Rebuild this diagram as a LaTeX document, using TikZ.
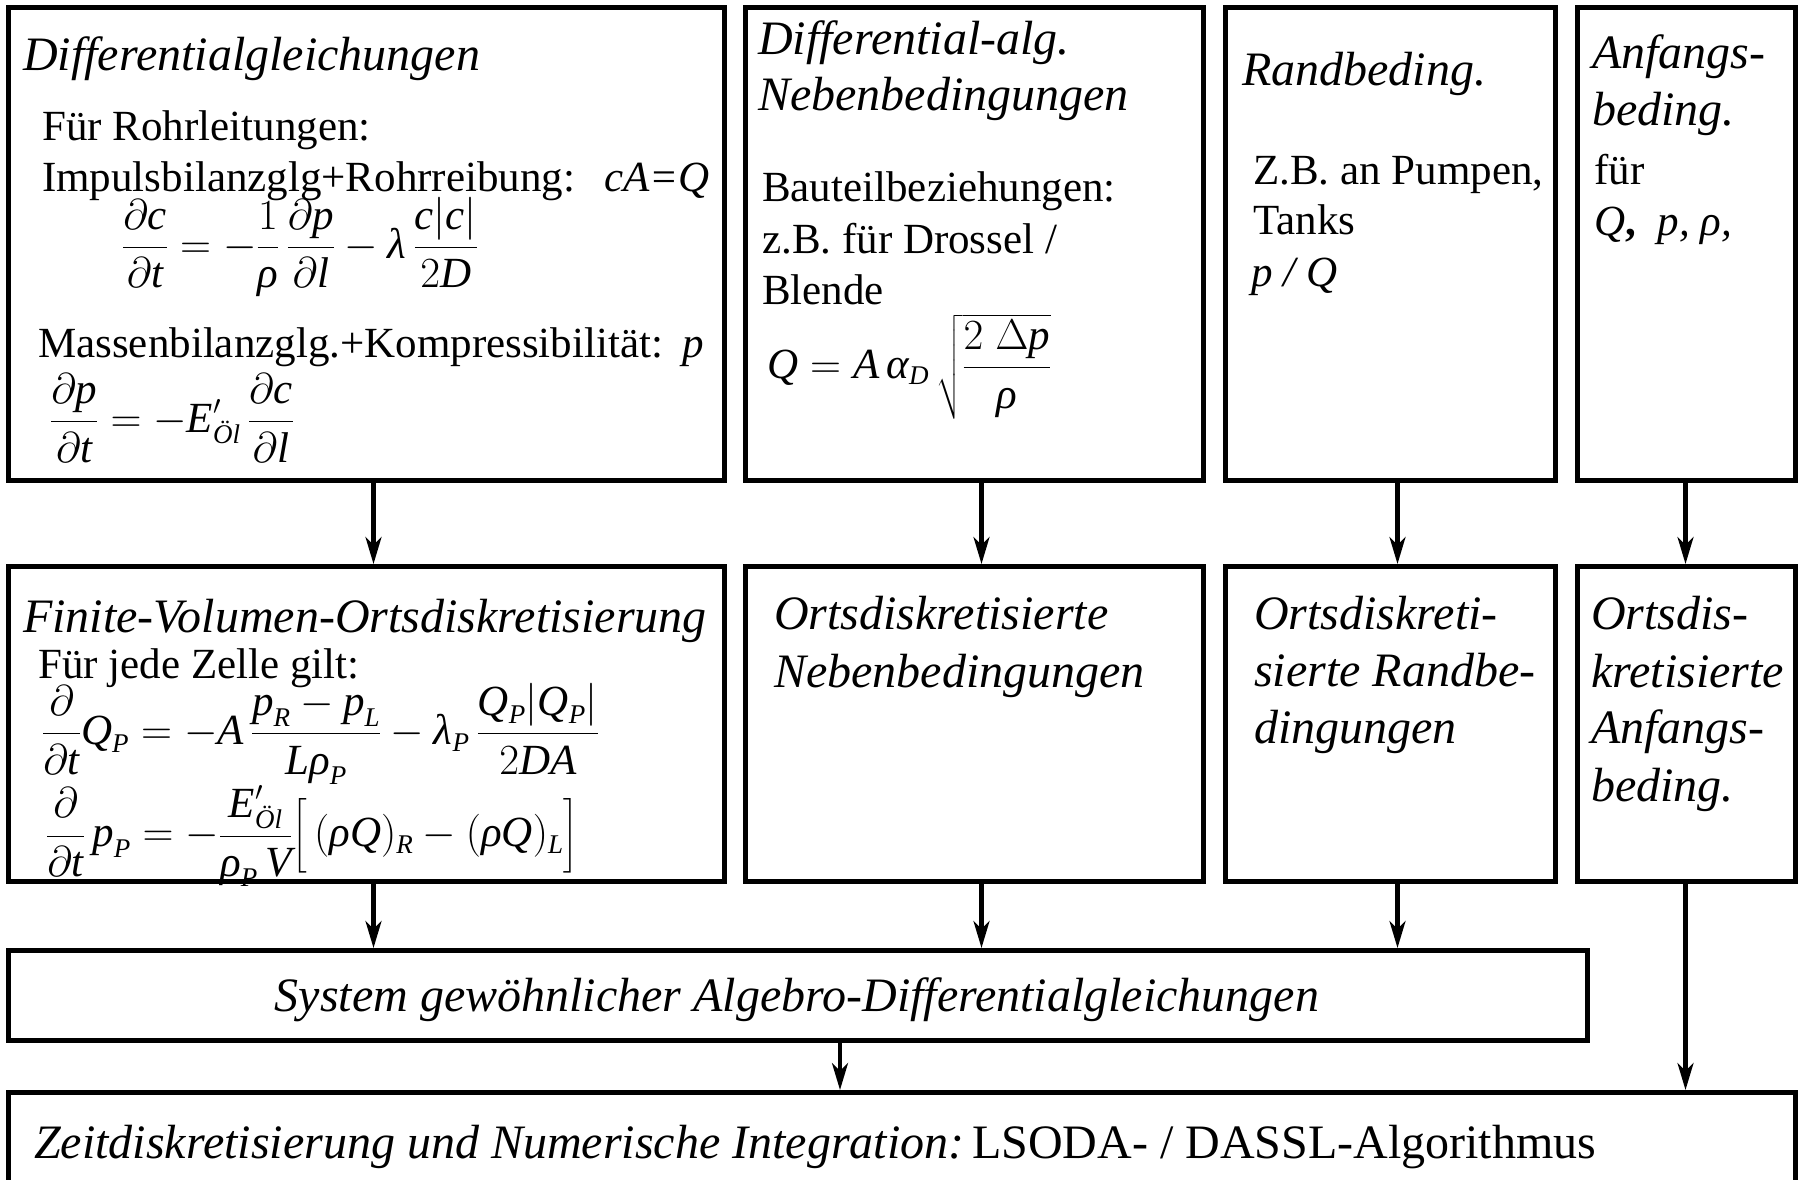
\RequirePackage{fix-cm}
\documentclass[tikz,border=0pt]{standalone}
\usepackage{amsmath}
\usepackage{fontspec}
\setmainfont{Liberation Serif}
\usetikzlibrary{arrows.meta}
\DeclareMathSizes{43}{43}{27}{20}
\newcommand\mv[1]{\textit{#1}}
\newcommand\bodyf{\fontsize{43}{52}\selectfont}
\newcommand\titf{\fontsize{48}{57}\selectfont\itshape}
\tikzset{
  box/.style={draw, line width=5pt, rectangle, inner sep=0pt, anchor=north west},
  txt/.style={anchor=base west, inner sep=0pt, font=\bodyf},
  ttl/.style={anchor=base west, inner sep=0pt, font=\titf},
  eq/.style={anchor=west, inner sep=0pt, font=\bodyf},
  arr/.style={line width=4.2pt, -{Stealth[length=27pt,width=16pt,inset=8pt]}}
}
\begin{document}
\begin{tikzpicture}[x=1pt,y=-1pt]
\path[fill=white, use as bounding box] (0,0) rectangle (1801,1180);
% boxes
\node[box, minimum width=716pt, minimum height=473pt] (b1) at (6,5) {};
\node[box, minimum width=458pt, minimum height=473pt] (b2) at (743,5) {};
\node[box, minimum width=330pt, minimum height=473pt] (b3) at (1223,5) {};
\node[box, minimum width=218pt, minimum height=473pt] (b4) at (1575,5) {};
\node[box, minimum width=716pt, minimum height=315pt] (r1) at (6,564) {};
\node[box, minimum width=458pt, minimum height=315pt] (r2) at (743,564) {};
\node[box, minimum width=330pt, minimum height=315pt] (r3) at (1223,564) {};
\node[box, minimum width=218pt, minimum height=315pt] (r4) at (1575,564) {};
\node[box, minimum width=1579pt, minimum height=90pt] (sys) at (6,948) {};
\node[box, minimum width=1787pt, minimum height=120pt] (bot) at (6,1090) {};
% arrows
\draw[arr] ([xshift=7pt]b1.south) -- ([xshift=7pt]r1.north);
\draw[arr] ([xshift=7pt]b2.south) -- ([xshift=7pt]r2.north);
\draw[arr] ([xshift=7pt]b3.south) -- ([xshift=7pt]r3.north);
\draw[arr] ([xshift=-1pt]b4.south) -- ([xshift=-1pt]r4.north);
\draw[arr] ([xshift=7pt]r1.south) -- ([xshift=7pt]r1.south |- sys.north);
\draw[arr] ([xshift=7pt]r2.south) -- ([xshift=7pt]r2.south |- sys.north);
\draw[arr] ([xshift=7pt]r3.south) -- ([xshift=7pt]r3.south |- sys.north);
\draw[arr] ([xshift=-1pt]r4.south) -- ([xshift=-1pt]r4.south |- bot.north);
\draw[arr] ([xshift=42pt]sys.south) -- ([xshift=42pt]sys.south |- bot.north);
% box 1
\node[ttl] (t1) at (23,71) {Differentialgleichungen};
\node[txt] (t1a) at (42,140) {Für Rohrleitungen:};
\node[txt] (t1b) at (42,191) {Impulsbilanzglg+Rohrreibung:};
\node[txt] (t1c) at (604,191) {\itshape cA=Q};
\node[eq] (e1) at (122,247) {$\displaystyle \frac{\partial \mv{c}}{\partial \mv{t}} = -\frac{1}{\mv{ρ}}\,\frac{\partial \mv{p}}{\partial \mv{l}} - \mv{λ}\,\frac{\mv{c}\!\left|\mv{c}\right|}{2\mv{D}}$};
\node[txt] (t1d) at (38,357) {Massenbilanzglg.+Kompressibilität:};
\node[txt] (t1e) at (682,357) {\itshape p};
\node[eq] (e2) at (50,418) {$\displaystyle \frac{\partial \mv{p}}{\partial \mv{t}} = -\mv{E}'_{\mv{Öl}}\,\frac{\partial \mv{c}}{\partial \mv{l}}$};
% box 2
\node[ttl] (t2) at (758,55) {Differential-alg.};
\node[ttl] (t2a) at (758,111) {Nebenbedingungen};
\node[txt] (t2b) at (762,201) {Bauteilbeziehungen:};
\node[txt] (t2c) at (762,253) {z.B. für Drossel /};
\node[txt] (t2d) at (762,304) {Blende};
\node[eq] (e3) at (767,367) {$\mv{Q} = \mv{A}\,\mv{α}_{\mv{D}}\,\sqrt{\displaystyle\frac{2\;\Delta \mv{p}}{\mv{ρ}}}$};
% box 3
\node[ttl] (t3) at (1242,86) {Randbeding.};
\node[txt] (t3a) at (1253,184) {Z.B. an Pumpen,};
\node[txt] (t3b) at (1253,234) {Tanks};
\node[txt] (t3c) at (1251,286) {\itshape p / Q};
% box 4
\node[ttl] (t4) at (1592,69) {Anfangs-};
\node[ttl] (t4a) at (1592,126) {beding.};
\node[txt] (t4b) at (1594,184) {für};
\node[txt] (t4c) at (1594,235) {\textit{Q}\textbf{,}\ \ \textit{p, ρ,}};
% row 2
\node[ttl] (s1) at (23,632) {Finite-Volumen-Ortsdiskretisierung};
\node[txt] (s1a) at (38,678) {Für jede Zelle gilt:};
\node[eq] (e4) at (42,734) {$\displaystyle \frac{\partial}{\partial \mv{t}}\mv{Q}_{\mv{P}} = -\mv{A}\,\frac{\mv{p}_{\mv{R}}-\mv{p}_{\mv{L}}}{\mv{L}\mv{ρ}_{\mv{P}}} - \mv{λ}_{\mv{P}}\,\frac{\mv{Q}_{\mv{P}}\!\left|\mv{Q}_{\mv{P}}\right|}{2\mv{DA}}$};
\node[eq] (e5) at (46,836) {$\displaystyle \frac{\partial}{\partial \mv{t}}\,\mv{p}_{\mv{P}} = -\frac{\mv{E}'_{\mv{Öl}}}{\mv{ρ}_{\mv{P}}\,\mv{V}}\Big[\,(\mv{ρ}\mv{Q})_{\mv{R}} - (\mv{ρ}\mv{Q})_{\mv{L}}\Big]$};
\node[ttl] (s2) at (774,629) {Ortsdiskretisierte};
\node[ttl] (s2a) at (774,687) {Nebenbedingungen};
\node[ttl] (s3) at (1254,629) {Ortsdiskreti-};
\node[ttl] (s3a) at (1254,686) {sierte Randbe-};
\node[ttl] (s3b) at (1254,743) {dingungen};
\node[ttl] (s4) at (1591,629) {Ortsdis-};
\node[ttl] (s4a) at (1591,687) {kretisierte};
\node[ttl] (s4b) at (1591,743) {Anfangs-};
\node[ttl] (s4c) at (1591,801) {beding.};
% system and bottom
\node[ttl, anchor=base] (sy) at (797,1011) {System gewöhnlicher Algebro-Differentialgleichungen};
\node[ttl] (bt) at (34,1158) {Zeitdiskretisierung und Numerische Integration:\,\upshape LSODA- / DASSL-Algorithmus};
\end{tikzpicture}
\end{document}
